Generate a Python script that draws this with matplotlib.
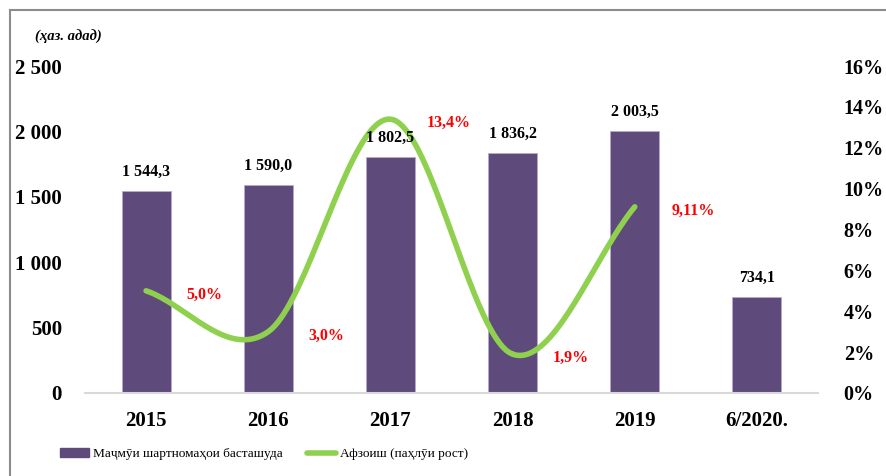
import numpy as np
import matplotlib.pyplot as plt
from matplotlib.lines import Line2D

# Маълумот
years = ["2015", "2016", "2017", "2018", "2019", "6/2020."]
contracts = [1544.3, 1590.0, 1802.5, 1836.2, 2003.5, 734.1]
contract_labels = ["1 544,3", "1 590,0", "1 802,5", "1 836,2", "2 003,5", "734,1"]
growth = [5.0, 3.0, 13.4, 1.9, 9.11]
growth_labels = ["5,0%", "3,0%", "13,4%", "1,9%", "9,11%"]
left_ticks = [0, 500, 1000, 1500, 2000, 2500]
left_tick_labels = ["0", "500", "1 000", "1 500", "2 000", "2 500"]
right_ticks = [0, 2, 4, 6, 8, 10, 12, 14, 16]

bar_color = "#5E4A7B"
line_color = "#8FD14F"
serif = ["Liberation Serif", "DejaVu Serif"]
plt.rcParams["font.family"] = serif


def smooth(xs, ys, n=40):
    # сплайни Catmull-Rom, ба монанди хати ҳамвори Excel
    xs = np.asarray(xs, float)
    ys = np.asarray(ys, float)
    px = np.concatenate([[2 * xs[0] - xs[1]], xs, [2 * xs[-1] - xs[-2]]])
    py = np.concatenate([[2 * ys[0] - ys[1]], ys, [2 * ys[-1] - ys[-2]]])
    ox, oy = [], []
    for i in range(1, len(px) - 2):
        t = np.linspace(0, 1, n)
        for p, out in ((px, ox), (py, oy)):
            p0, p1, p2, p3 = p[i - 1], p[i], p[i + 1], p[i + 2]
            out.extend(0.5 * (2 * p1 + (-p0 + p2) * t
                              + (2 * p0 - 5 * p1 + 4 * p2 - p3) * t ** 2
                              + (-p0 + 3 * p1 - 3 * p2 + p3) * t ** 3))
    return np.array(ox), np.array(oy)


fig = plt.figure(figsize=(8.86, 4.76), dpi=100)
ax = fig.add_axes([85 / 886, 1 - 393 / 476, 733 / 886, 327 / 476])
x = np.arange(len(years))

ax.bar(x, contracts, width=0.4, color=bar_color, edgecolor="#B9A9CF", linewidth=0.6, zorder=2)

ax.set_xlim(-0.5, len(years) - 0.5)
ax.set_ylim(0, 2500)
ax.set_yticks(left_ticks)
ax.set_yticklabels(left_tick_labels)
ax.set_xticks(x)
ax.set_xticklabels(years)
for s in ["top", "right", "left"]:
    ax.spines[s].set_visible(False)
ax.spines["bottom"].set_color("#D9D9D9")
ax.spines["bottom"].set_linewidth(1.5)
ax.tick_params(axis="both", length=0, labelsize=15)
ax.tick_params(axis="y", pad=16.5)
ax.tick_params(axis="x", pad=13)
for t in ax.get_xticklabels() + ax.get_yticklabels():
    t.set_fontweight("bold")

ax2 = ax.twinx()
ax2.set_ylim(0, 16)
ax2.set_yticks(right_ticks)
ax2.set_yticklabels([f"{t}%" for t in right_ticks])
ax2.tick_params(axis="y", length=0, labelsize=14.5, pad=18.5)
for t in ax2.get_yticklabels():
    t.set_fontweight("bold")
for s in ax2.spines.values():
    s.set_visible(False)

sx, sy = smooth(x[:len(growth)], growth)
ax2.plot(sx, sy, color=line_color, linewidth=4, solid_capstyle="round", zorder=3)
for xi, v, lab in zip(x, growth, growth_labels):
    ax2.annotate(lab, (xi, v), xytext=(42, -3), textcoords="offset points",
                 ha="center", va="center", fontsize=11.5, fontweight="bold", color="#FF0000")

# рақамҳои сутунҳо болои хат
for xi, v, lab in zip(x, contracts, contract_labels):
    ax2.annotate(lab, (xi, v), xycoords=ax.transData, xytext=(0, 8),
                 textcoords="offset points", ha="center", va="bottom",
                 fontsize=11.5, fontweight="bold", zorder=5)

fig.text(35 / 886, 1 - 37 / 476, "(ҳаз. адад)", fontsize=10.5, fontstyle="italic",
         fontweight="bold", va="center", ha="left")

handles = [plt.Rectangle((0, 0), 1, 1, color=bar_color),
           Line2D([0], [0], color=line_color, linewidth=4, solid_capstyle="round")]
fig.legend(handles, ["Маҷмӯи шартномаҳои басташуда", "Афзоиш (паҳлӯи рост)"],
           loc="center", bbox_to_anchor=(264 / 886, 1 - 454 / 476), ncol=2, frameon=False,
           fontsize=9.6, handlelength=2.2, handletextpad=0.3, columnspacing=1.8)

# чорчӯба
fig.add_artist(Line2D([10 / 886, 10 / 886], [0, 1 - 10 / 476], color="#8C8C8C",
                      linewidth=1.5, transform=fig.transFigure))
fig.add_artist(Line2D([10 / 886, 1], [1 - 10 / 476, 1 - 10 / 476], color="#8C8C8C",
                      linewidth=1.5, transform=fig.transFigure))

fig.savefig("out.png", dpi=100)
